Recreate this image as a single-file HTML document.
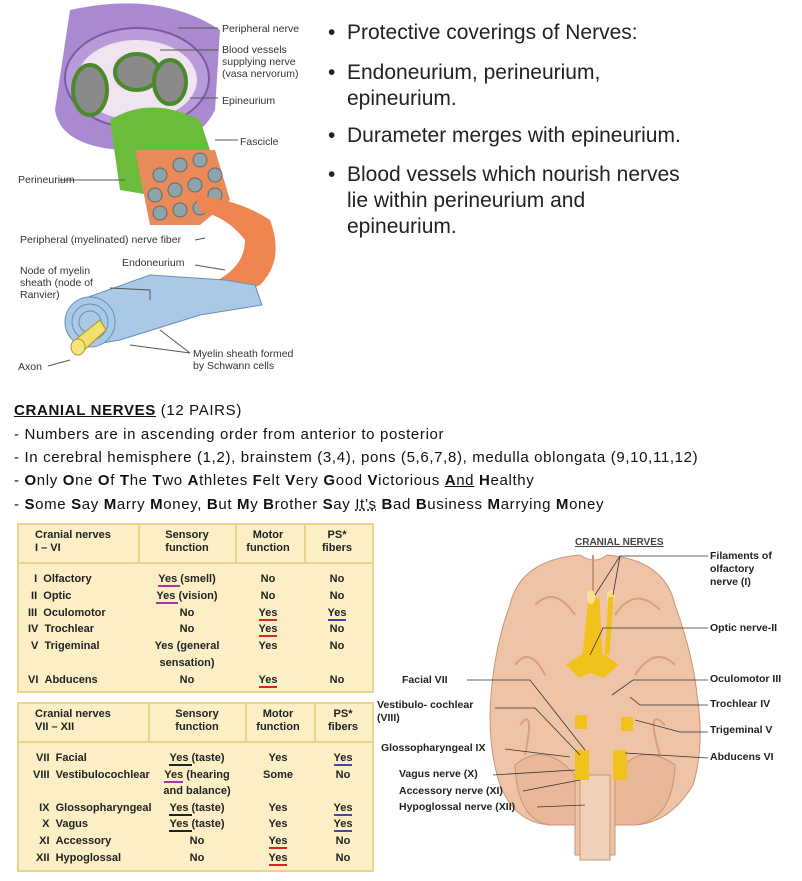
<!DOCTYPE html>
<html><head><meta charset="utf-8"><style>
body{margin:0;width:802px;height:881px;background:#fff;position:relative;overflow:hidden;font-family:"Liberation Sans",sans-serif}
.a{position:absolute;white-space:nowrap}
.lab{font-size:10.5px;color:#333;line-height:12px}
.bul{font-size:21px;color:#222;line-height:26px}
.txt{font-size:15px;color:#111;left:14px;letter-spacing:0.65px}
.t{position:absolute;background:#fcefc6;border:2px solid #e9d48a;box-sizing:border-box}
.t .h{position:absolute;top:0;left:0;right:0;height:37px;border-bottom:2px solid #e9d48a}
.t .v{position:absolute;top:0;height:37px;border-left:2px solid #e9d48a}
.tb{position:absolute;font-size:11px;font-weight:bold;color:#222;white-space:nowrap;line-height:13px}
.c{text-align:center}
.ur{border-bottom:2px solid #d22}.ub{border-bottom:2px solid #44a}.up{border-bottom:2px solid #a3a}.uk{border-bottom:2px solid #222}
.bl{font-size:10.5px;font-weight:bold;color:#222;line-height:13px}
</style></head><body>

<!-- nerve illustration -->
<svg class="a" style="left:0;top:0" width="320" height="390">
 <path d="M70 10 Q160 -10 220 30 L215 110 Q200 140 170 140 L120 150 Q60 145 55 110 Z" fill="#a98ad0"/>
 <ellipse cx="137" cy="78" rx="72" ry="50" fill="#b89bd8" stroke="#7a5aa8" stroke-width="2"/>
 <ellipse cx="137" cy="80" rx="60" ry="40" fill="#f0e4f0"/>
 <ellipse cx="90" cy="90" rx="17" ry="25" fill="#8a8a8a" stroke="#4a8a2a" stroke-width="4"/>
 <ellipse cx="137" cy="72" rx="22" ry="18" fill="#8a8a8a" stroke="#4a8a2a" stroke-width="4"/>
 <ellipse cx="170" cy="82" rx="16" ry="22" fill="#8a8a8a" stroke="#4a8a2a" stroke-width="4"/>
 <path d="M110 120 Q150 95 200 120 L210 150 L150 195 L120 190 Z" fill="#6cbc3c"/>
 <path d="M135 150 L215 150 L230 200 L200 225 L150 225 Z" fill="#e88a5a"/>
 <g fill="#8fa3aa" stroke="#666">
  <circle cx="160" cy="175" r="7"/><circle cx="180" cy="165" r="7"/><circle cx="200" cy="160" r="7"/><circle cx="215" cy="175" r="7"/>
  <circle cx="155" cy="195" r="7"/><circle cx="175" cy="190" r="7"/><circle cx="195" cy="185" r="7"/><circle cx="215" cy="195" r="7"/>
  <circle cx="160" cy="213" r="7"/><circle cx="180" cy="210" r="7"/><circle cx="200" cy="208" r="7"/>
 </g>
 <path d="M195 195 Q240 200 270 220 Q285 260 260 285 L225 300 L218 280 Q245 265 245 240 Q225 215 200 212 Z" fill="#ef8550"/>
 <path d="M80 300 L150 275 L225 280 L255 285 L262 305 L200 315 L120 340 L90 345 Z" fill="#a9c9e6" stroke="#6a8eb2"/>
 <ellipse cx="90" cy="322" rx="25" ry="25" fill="#a9c9e6" stroke="#6a8eb2"/>
 <circle cx="90" cy="322" r="18" fill="none" stroke="#6a8eb2"/><circle cx="90" cy="322" r="11" fill="none" stroke="#6a8eb2"/>
 <path d="M75 340 L100 320 L106 330 L82 352 Z" fill="#f3e06a" stroke="#a8962a"/>
 <ellipse cx="78" cy="347" rx="7" ry="8" fill="#f6e57a" stroke="#a8962a"/>
 <g stroke="#555" fill="none" stroke-width="1">
  <path d="M178 28 L218 28"/><path d="M160 50 L218 50"/><path d="M190 98 L218 98"/><path d="M215 140 L238 140"/>
  <path d="M60 180 L125 180"/><path d="M205 238 L195 240"/><path d="M195 265 L225 270"/><path d="M110 288 L150 290 L150 300"/>
  <path d="M48 366 L70 360"/><path d="M190 353 L160 330 M190 353 L130 345"/>
 </g>
</svg>
<div class="a lab" style="left:222px;top:23px">Peripheral nerve</div>
<div class="a lab" style="left:222px;top:44px">Blood vessels<br>supplying nerve<br>(vasa nervorum)</div>
<div class="a lab" style="left:222px;top:95px">Epineurium</div>
<div class="a lab" style="left:240px;top:136px">Fascicle</div>
<div class="a lab" style="left:18px;top:174px">Perineurium</div>
<div class="a lab" style="left:20px;top:234px">Peripheral (myelinated) nerve fiber</div>
<div class="a lab" style="left:122px;top:257px">Endoneurium</div>
<div class="a lab" style="left:20px;top:265px">Node of myelin<br>sheath (node of<br>Ranvier)</div>
<div class="a lab" style="left:18px;top:361px">Axon</div>
<div class="a lab" style="left:193px;top:348px">Myelin sheath formed<br>by Schwann cells</div>

<!-- bullets -->
<div class="a bul" style="left:328px;top:20px">•</div><div class="a bul" style="left:347px;top:20px">Protective coverings of Nerves:</div>
<div class="a bul" style="left:328px;top:60px">•</div><div class="a bul" style="left:347px;top:60px">Endoneurium, perineurium,<br>epineurium.</div>
<div class="a bul" style="left:328px;top:123px">•</div><div class="a bul" style="left:347px;top:123px">Durameter merges with epineurium.</div>
<div class="a bul" style="left:328px;top:162px">•</div><div class="a bul" style="left:347px;top:162px">Blood vessels which nourish nerves<br>lie within perineurium and<br>epineurium.</div>

<!-- text -->
<div class="a txt" style="top:402px"><b><u>CRANIAL NERVES</u></b> (12 PAIRS)</div>
<div class="a txt" style="top:426px">- Numbers are in ascending order from anterior to posterior</div>
<div class="a txt" style="top:449px">- In cerebral hemisphere (1,2), brainstem (3,4), pons (5,6,7,8), medulla oblongata (9,10,11,12)</div>
<div class="a txt" style="top:472px">- <b>O</b>nly <b>O</b>ne <b>O</b>f <b>T</b>he <b>T</b>wo <b>A</b>thletes <b>F</b>elt <b>V</b>ery <b>G</b>ood <b>V</b>ictorious <b><u>A</u></b><u>nd</u> <b>H</b>ealthy</div>
<div class="a txt" style="top:496px">- <b>S</b>ome <b>S</b>ay <b>M</b>arry <b>M</b>oney, <b>B</b>ut <b>M</b>y <b>B</b>rother <b>S</b>ay <u style="text-decoration-style:dotted">It’s</u> <b>B</b>ad <b>B</b>usiness <b>M</b>arrying <b>M</b>oney</div>

<!-- table 1 -->
<div class="t" style="left:17px;top:523px;width:357px;height:170px">
 <div class="h"></div><div class="v" style="left:119px"></div><div class="v" style="left:216px"></div><div class="v" style="left:285px"></div>
</div>
<div class="tb" style="left:35px;top:529px">Cranial nerves<br>I – VI</div>
<div class="tb c" style="left:140px;top:529px;width:94px">Sensory<br>function</div>
<div class="tb c" style="left:235px;top:529px;width:66px">Motor<br>function</div>
<div class="tb c" style="left:304px;top:529px;width:66px">PS*<br>fibers</div>
<div class="tb" style="left:28px;top:571px;line-height:16.8px">&nbsp;&nbsp;I&nbsp;&nbsp;Olfactory<br>&nbsp;II&nbsp;&nbsp;Optic<br>III&nbsp;&nbsp;Oculomotor<br>IV&nbsp;&nbsp;Trochlear<br>&nbsp;V&nbsp;&nbsp;Trigeminal<br><br>VI&nbsp;&nbsp;Abducens</div>
<div class="tb c" style="left:140px;top:571px;width:94px;line-height:16.8px"><span class="up">Yes </span>(smell)<br><span class="up">Yes </span>(vision)<br>No<br>No<br>Yes (general<br>sensation)<br>No</div>
<div class="tb c" style="left:235px;top:571px;width:66px;line-height:16.8px">No<br>No<br><span class="ur">Yes</span><br><span class="ur">Yes</span><br>Yes<br><br><span class="ur">Yes</span></div>
<div class="tb c" style="left:304px;top:571px;width:66px;line-height:16.8px">No<br>No<br><span class="ub">Yes</span><br>No<br>No<br><br>No</div>

<!-- table 2 -->
<div class="t" style="left:17px;top:702px;width:357px;height:170px">
 <div class="h"></div><div class="v" style="left:129px"></div><div class="v" style="left:226px"></div><div class="v" style="left:295px"></div>
</div>
<div class="tb" style="left:35px;top:708px">Cranial nerves<br>VII – XII</div>
<div class="tb c" style="left:150px;top:708px;width:94px">Sensory<br>function</div>
<div class="tb c" style="left:245px;top:708px;width:66px">Motor<br>function</div>
<div class="tb c" style="left:314px;top:708px;width:58px">PS*<br>fibers</div>
<div class="tb" style="left:33px;top:750px;line-height:16.6px">&nbsp;VII&nbsp;&nbsp;Facial<br>VIII&nbsp;&nbsp;Vestibulocochlear<br><br>&nbsp;&nbsp;IX&nbsp;&nbsp;Glossopharyngeal<br>&nbsp;&nbsp;&nbsp;X&nbsp;&nbsp;Vagus<br>&nbsp;&nbsp;XI&nbsp;&nbsp;Accessory<br>&nbsp;XII&nbsp;&nbsp;Hypoglossal</div>
<div class="tb c" style="left:150px;top:750px;width:94px;line-height:16.6px"><span class="uk">Yes </span>(taste)<br><span class="up">Yes</span> (hearing<br>and balance)<br><span class="uk">Yes </span>(taste)<br><span class="uk">Yes </span>(taste)<br>No<br>No</div>
<div class="tb c" style="left:245px;top:750px;width:66px;line-height:16.6px">Yes<br>Some<br><br>Yes<br>Yes<br><span class="ur">Yes</span><br><span class="ur">Yes</span></div>
<div class="tb c" style="left:314px;top:750px;width:58px;line-height:16.6px"><span class="ub">Yes</span><br>No<br><br><span class="ub">Yes</span><br><span class="ub">Yes</span><br>No<br>No</div>

<!-- brain -->
<svg class="a" style="left:375px;top:525px" width="427" height="356">
 <path d="M135 80 Q145 35 205 30 Q220 40 232 30 Q290 35 300 80 Q318 130 322 170 Q330 220 318 260 Q295 298 260 300 L240 300 L240 330 L200 330 L200 300 L175 300 Q140 298 125 260 Q112 220 116 170 Q120 120 135 80 Z" fill="#efc4a6" stroke="#c89578"/>
 <path d="M218 30 L218 130" stroke="#c89578" stroke-width="2"/>
 <path d="M160 80 Q180 60 200 90 M240 90 Q260 60 285 85 M140 140 Q155 120 170 150 M260 150 Q280 120 300 140 M145 200 Q160 180 150 230 M290 200 Q270 180 285 230" stroke="#d8a080" fill="none" stroke-width="2"/>
 <path d="M140 240 Q170 215 200 250 L200 300 L175 300 Q142 295 140 240 Z M300 240 Q265 215 240 250 L240 300 L260 300 Q298 295 300 240 Z" fill="#e8b898" stroke="#c89578"/>
 <rect x="205" y="250" width="30" height="85" fill="#f0d0b8" stroke="#c89578"/>
 <path d="M216 73 L210 130 L195 140 L205 150 L215 145 L228 150 L240 140 L225 130 L222 73" stroke="#f1c21b" stroke-width="5" fill="#f1c21b"/>
 <ellipse cx="216" cy="72" rx="4" ry="7" fill="#f8e090"/><ellipse cx="236" cy="72" rx="4" ry="7" fill="#f8e090"/>
 <path d="M236 72 L232 130" stroke="#f1c21b" stroke-width="5"/>
 <g fill="#f1c21b"><rect x="200" y="190" width="12" height="14"/><rect x="246" y="192" width="12" height="14"/><rect x="200" y="225" width="14" height="30"/><rect x="238" y="225" width="14" height="30"/></g>
 <text x="200" y="20" font-size="10" font-weight="bold" fill="#444" text-decoration="underline" font-family="Liberation Sans">CRANIAL NERVES</text>
 <g stroke="#333" fill="none" stroke-width="0.8">
  <path d="M333 31 L245 31 L220 70 M245 31 L238 70"/><path d="M333 103 L228 103 L215 130"/><path d="M333 155 L258 155 L237 170"/>
  <path d="M333 180 L265 180 L255 172"/><path d="M333 207 L305 207 L260 195"/><path d="M333 233 L250 228"/>
  <path d="M92 155 L155 155 L210 225"/><path d="M120 183 L160 183 L205 230"/><path d="M130 224 L195 232"/>
  <path d="M118 250 L200 245"/><path d="M148 266 L205 255"/><path d="M162 282 L210 280"/>
 </g>
</svg>
<div class="a bl" style="left:710px;top:550px">Filaments of<br>olfactory<br>nerve (I)</div>
<div class="a bl" style="left:710px;top:622px">Optic nerve-II</div>
<div class="a bl" style="left:710px;top:673px">Oculomotor III</div>
<div class="a bl" style="left:710px;top:698px">Trochlear IV</div>
<div class="a bl" style="left:710px;top:724px">Trigeminal V</div>
<div class="a bl" style="left:710px;top:751px">Abducens VI</div>
<div class="a bl" style="left:402px;top:674px">Facial VII</div>
<div class="a bl" style="left:377px;top:699px">Vestibulo- cochlear<br>(VIII)</div>
<div class="a bl" style="left:381px;top:742px">Glossopharyngeal IX</div>
<div class="a bl" style="left:399px;top:768px">Vagus nerve (X)</div>
<div class="a bl" style="left:399px;top:785px">Accessory nerve (XI)</div>
<div class="a bl" style="left:399px;top:801px">Hypoglossal nerve (XII)</div>
</body></html>
